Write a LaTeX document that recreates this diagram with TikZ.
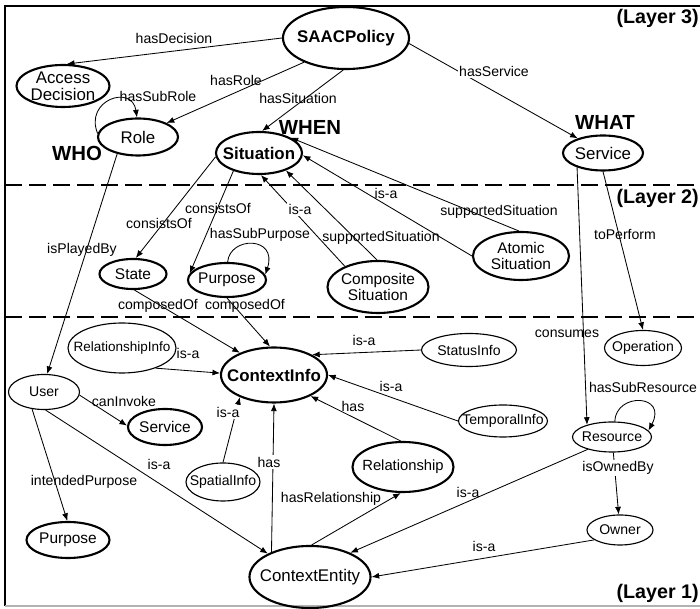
\documentclass[tikz,border=0pt]{standalone}
\usepackage{fontspec}
\setmainfont{Liberation Sans}
\usetikzlibrary{shapes.geometric,arrows.meta}

\begin{document}
\begin{tikzpicture}[
    x=0.025cm, y=-0.025cm,
    >={Latex[length=1.9mm,width=1.5mm]},
    every node/.style={inner sep=0pt},
    concept/.style={draw, ellipse, line width=1.5pt, align=center, inner xsep=-8pt,
                    font=\fontsize{11}{12}\selectfont},
    info/.style={draw, ellipse, line width=0.8pt, inner xsep=-8pt,
                 font=\fontsize{10}{12}\selectfont},
    big/.style={font=\fontsize{12}{12.5}\selectfont},
    bigbold/.style={font=\fontsize{12}{13}\selectfont\bfseries},
    lbl/.style={font=\fontsize{10}{12}\selectfont},
    lblw/.style={lbl, fill=white, inner sep=1pt},
    tag/.style={font=\fontsize{14.5}{16}\selectfont\bfseries},
    layer/.style={font=\fontsize{14}{16}\selectfont\bfseries, anchor=east},
    link/.style={->, line width=0.6pt},
    sep/.style={line width=1.4pt, dash pattern=on 4.2mm off 1.8mm}
]
  \useasboundingbox (0,0) rectangle (700,609);

  % frame and layer borders
  \draw[line width=0.8pt] (700,6) -- (5,6) -- (5,606);
  \draw[line width=0.8pt, gray!60] (5,606) -- (700,606);
  \draw[sep] (5,185) -- (700,185);
  \draw[sep] (5,317) -- (700,317);

  % Layer 3
  \node[concept, bigbold, minimum width=31.5mm, minimum height=15.5mm] (pol) at (346,38) {SAACPolicy};
  \node[concept, minimum width=23.25mm, minimum height=10.5mm, font=\fontsize{12}{12}\selectfont] (acc) at (63,86) {Access\\Decision};
  \node[concept, big, minimum width=20mm, minimum height=9.25mm] (role) at (138,137) {Role};
  \node[concept, bigbold, minimum width=21.5mm, minimum height=10.5mm] (sit) at (259,153) {Situation};
  \node[concept, big, minimum width=20mm, minimum height=8.75mm] (svc) at (603,153) {Service};

  \node[tag] (who)  at (77,153)  {WHO};
  \node[tag] (when) at (310,127) {WHEN};
  \node[tag] (what) at (605,122) {WHAT};
  \node[layer] (l3) at (699,18) {(Layer 3)};

  % Layer 2
  \node[concept, minimum width=16.75mm, minimum height=7.5mm] (st) at (133,274) {State};
  \node[concept, minimum width=19.5mm, minimum height=8.5mm] (pur) at (227,280) {Purpose};
  \node[concept, minimum width=25.25mm, minimum height=13mm] (comp) at (378,287) {Composite\\Situation};
  \node[concept, minimum width=24mm, minimum height=12mm] (atom) at (521,256) {Atomic\\Situation};
  \node[layer] (l2) at (699,198) {(Layer 2)};

  % Layer 1
  \node[concept, bigbold, minimum width=26.5mm, minimum height=13.75mm] (ci) at (274,375) {ContextInfo};
  \node[info, minimum width=27mm, minimum height=12.5mm, font=\fontsize{9.6}{11}\selectfont] (ri) at (122,348) {RelationshipInfo};
  \node[info, minimum width=23.75mm, minimum height=8.25mm] (sta) at (469,350) {StatusInfo};
  \node[info, minimum width=19.25mm, minimum height=8.75mm] (op) at (643,348) {Operation};
  \node[info, minimum width=17.75mm, minimum height=8.75mm] (usr) at (44,392) {User};
  \node[concept, minimum width=18.5mm, minimum height=9mm] (inv) at (165,427) {Service};
  \node[info, minimum width=22.25mm, minimum height=8mm] (tmp) at (503,421) {TemporalInfo};
  \node[info, minimum width=19.75mm, minimum height=7.5mm] (res) at (612,437) {Resource};
  \node[info, minimum width=18.5mm, minimum height=9.5mm] (spa) at (223,482) {SpatialInfo};
  \node[concept, minimum width=25.25mm, minimum height=12.5mm, font=\fontsize{10.5}{12}\selectfont] (rel) at (403,467) {Relationship};
  \node[concept, minimum width=20.75mm, minimum height=9mm] (goal) at (68,540) {Purpose};
  \node[concept, big, minimum width=30.25mm, minimum height=15.5mm] (ce) at (310,577) {ContextEntity};
  \node[info, minimum width=16.5mm, minimum height=7.5mm] (own) at (620,530) {Owner};
  \node[layer] (l1) at (699,593) {(Layer 1)};

  % Arrows, layer 3
  \draw[link] (pol.180) -- (acc.80) node[lbl] at (174,38) {hasDecision};
  \draw[link] (pol.210) -- (role.26) node[lbl] at (236,80) {hasRole};
  \draw[link] (pol.265) -- (sit.82) node[lbl] at (298,98) {hasSituation};
  \draw[link] (pol.-5) -- (svc.150) node[lblw] at (494,71) {hasService};
  \draw[link] (role.175) .. controls (84,100) and (132,84) .. (role.93)
    node[lbl] at (158,96) {hasSubRole};
  \draw[link] (role.219) -- (usr.80) node[lbl] at (82,250) {isPlayedBy};

  % Arrows, layer 2
  \draw[link] (sit.185) -- (st.80) node[lbl] at (159,223) {consistsOf};
  \draw[link] (sit.215) -- (pur.170) node[lbl] at (218,208) {consistsOf};
  \draw[link] (comp.148) -- (sit.-85) node[lblw] at (300,209) {is-a};
  \draw[link] (comp.92) -- (sit.-33) node[lbl] at (381,238) {supportedSituation};
  \draw[link] (atom.180) -- (sit.-3) node[lbl] at (386,193) {is-a};
  \draw[link] (atom.95) -- (sit.26) node[lbl] at (499,212) {supportedSituation};
  \draw[link] (pur.88) .. controls (230,236) and (278,236) .. (pur.8)
    node[lbl] at (260,235) {hasSubPurpose};
  \draw[link] (st.-85) -- (ci.147) node[lbl] at (158,306) {composedOf};
  \draw[link] (pur.-90) -- (ci.98) node[lbl] at (245,306) {composedOf};
  \draw[link] (svc.-90) -- (op.90) node[lbl] at (625,234) {toPerform};
  \draw[link] (svc.209) -- (res.154) node[lbl] at (567,334) {consumes};

  % Arrows, layer 1
  \draw[link] (ri.-31) -- (ci.178) node[lbl] at (188,353) {is-a};
  \draw[link] (sta.180) -- (ci.28) node[lbl] at (364,340) {is-a};
  \draw[link] (tmp.180) -- (ci.0) node[lbl] at (391,386) {is-a};
  \draw[link] (rel.95) -- (ci.-30) node[lbl] at (353,406) {has};
  \draw[link] (spa.90) -- (ci.213) node[lblw] at (228,412) {is-a};
  \draw[link] (ce.147) -- (ci.-90) node[lblw] at (269,462) {has};
  \draw[link] (ce.87) -- (rel.-95) node[lbl] at (331,499) {hasRelationship};
  \draw[link] (usr.-5) -- (inv.178) node[lbl] at (124,401) {canInvoke};
  \draw[link] (usr.-85) -- (ce.151) node[lbl] at (159,464) {is-a};
  \draw[link] (usr.235) -- (goal.92) node[lbl] at (84,482) {intendedPurpose};
  \draw[link] (res.80) .. controls (616,392) and (668,394) .. (res.10)
    node[lbl] at (643,387) {hasSubResource};
  \draw[link] (res) -- (own) node[lblw] at (618,468) {isOwnedBy};
  \draw[link] (res.207) -- (ce.31) node[lbl] at (468,492) {is-a};
  \draw[link] (own.201) -- (ce.0) node[lbl] at (484,546) {is-a};
\end{tikzpicture}
\end{document}
